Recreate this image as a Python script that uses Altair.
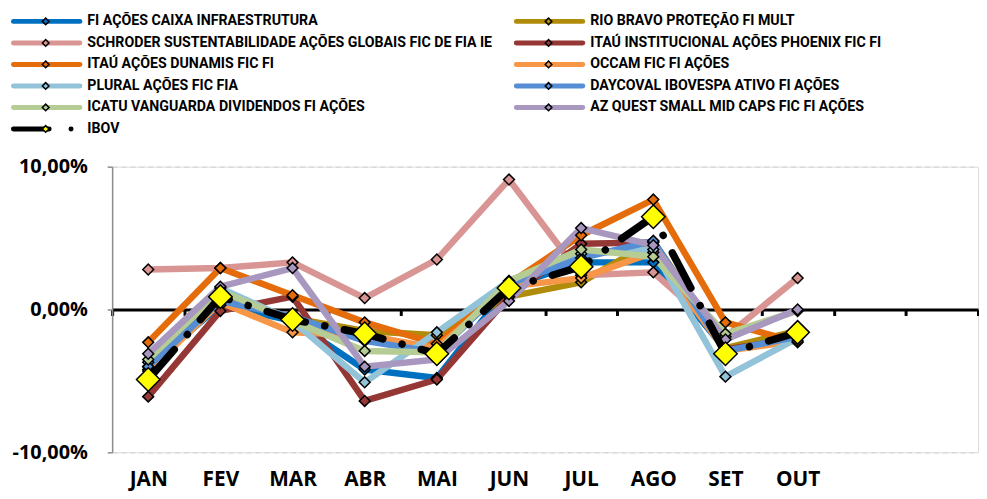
import altair as alt
import pandas as pd

months = ["JAN", "FEV", "MAR", "ABR", "MAI", "JUN", "JUL", "AGO", "SET", "OUT"]
all_months = months + ["NOV", "DEZ"]

series = [
    "FI AÇÕES CAIXA INFRAESTRUTURA",
    "RIO BRAVO PROTEÇÃO FI MULT",
    "SCHRODER SUSTENTABILIDADE AÇÕES GLOBAIS FIC DE FIA IE",
    "ITAÚ INSTITUCIONAL AÇÕES PHOENIX FIC FI",
    "ITAÚ AÇÕES DUNAMIS FIC FI",
    "OCCAM FIC FI AÇÕES",
    "PLURAL AÇÕES FIC FIA",
    "DAYCOVAL IBOVESPA ATIVO FI AÇÕES",
    "ICATU VANGUARDA DIVIDENDOS FI AÇÕES",
    "AZ QUEST SMALL MID CAPS FIC FI AÇÕES",
    "IBOV",
]
line_colors = ["#0070C0", "#B08C0A", "#D99594", "#953735", "#E46C0A", "#F79646",
               "#92C3D8", "#558ED5", "#B5CC94", "#A898C0", "#000000"]
marker_colors = ["#0070C0", "#B08C0A", "#D99594", "#953735", "#E46C0A", "#F79646",
                 "#92C3D8", "#558ED5", "#B5CC94", "#A898C0", "#FFFF00"]

caixa = [-4.0, 0.3, -0.8, -4.2, -4.8, 1.6, 3.3, 3.3, -2.8, -1.8]
rio_bravo = [-4.2, 1.0, -0.6, -1.5, -1.8, 0.9, 1.9, 4.8, -2.7, -1.5]
schroder = [2.8, 2.9, 3.3, 0.8, 3.5, 9.1, 2.4, 2.6, -1.9, 2.2]
phoenix = [-6.1, -0.1, 0.9, -6.4, -4.9, 0.9, 4.6, 4.7, -2.8, -2.0]
dunamis = [-2.3, 2.9, 1.0, -0.9, -2.4, 1.8, 5.2, 7.7, -0.9, -2.3]
occam = [-4.3, 0.5, -1.6, -1.8, -2.7, 1.6, 2.2, 4.0, -2.9, -2.2]
plural = [-3.7, 1.5, -0.8, -5.1, -1.6, 2.0, 3.9, 4.2, -4.7, -2.0]
daycoval = [-4.0, 0.6, -0.5, -2.2, -3.0, 1.8, 3.6, 4.8, -2.9, -1.9]
icatu = [-3.5, 1.3, -0.8, -2.9, -3.0, 2.0, 4.2, 3.7, -1.7, -0.1]
azquest = [-3.1, 1.6, 2.9, -4.0, -3.5, 0.6, 5.7, 4.5, -2.1, 0.0]
ibov = [-4.9, 0.9, -0.7, -1.7, -3.1, 1.5, 3.0, 6.5, -3.1, -1.6]

all_values = [caixa, rio_bravo, schroder, phoenix, dunamis, occam, plural,
              daycoval, icatu, azquest, ibov]

rows = []
for si, (name, vals) in enumerate(zip(series, all_values)):
    for mi, (m, v) in enumerate(zip(months, vals)):
        rows.append({"serie": name, "mes": m, "idx": mi, "valor": v, "ordem": si})
df = pd.DataFrame(rows)
funds = df[df["serie"] != "IBOV"]
ibov_df = df[df["serie"] == "IBOV"]

# legend table: two columns, row-major, in series order
leg = pd.DataFrame({
    "serie": series,
    "col": [i % 2 for i in range(len(series))],
    "row": [i // 2 for i in range(len(series))],
})
leg_funds = leg[leg["serie"] != "IBOV"]
leg_ibov = leg[leg["serie"] == "IBOV"]

AXIS_FONT = "Open Sans"
LEG_FONT = "Roboto"

color_scale = alt.Scale(domain=series, range=line_colors)
fill_scale = alt.Scale(domain=series, range=marker_colors)

x_enc = alt.X(
    "mes:N",
    sort=all_months,
    scale=alt.Scale(domain=all_months, type="band", paddingInner=0, paddingOuter=0),
    axis=alt.Axis(
        title=None, offset=-144, tickBand="extent", domainColor="black", domainWidth=3,
        tickColor="black", tickWidth=3, tickSize=6, labelPadding=154, labelAngle=0,
        labelFont=AXIS_FONT, labelFontSize=21, labelFontWeight="bold", labelColor="black",
        grid=False,
        labelExpr="indexof(['NOV','DEZ'], datum.value) >= 0 ? '' : datum.value",
    ),
)
y_enc = alt.Y(
    "valor:Q",
    scale=alt.Scale(domain=[-10, 10], nice=False, zero=False),
    axis=alt.Axis(
        title=None, values=[-10, 0, 10], domainColor="#8C8C8C", domainWidth=1.5,
        tickColor="#8C8C8C", tickWidth=1.5, tickSize=5, labelPadding=20,
        labelFont=AXIS_FONT, labelFontSize=20, labelFontWeight="bold", labelColor="black",
        grid=True, gridColor="#D9D9D9", gridWidth=1.5, gridDash=[5, 4],
        labelExpr="(datum.value < 0 ? '-' : '') + replace(format(abs(datum.value), '.2f'), '.', ',') + '%'",
    ),
)
color_enc = alt.Color("serie:N", scale=color_scale, legend=None)
fill_enc = alt.Fill("serie:N", scale=fill_scale, legend=None)
order_enc = alt.Order("idx:Q")

fund_lines = alt.Chart(funds).mark_line(strokeWidth=6.5, strokeCap="round", strokeJoin="round").encode(
    x=x_enc, y=y_enc, color=color_enc, order=order_enc, detail="ordem:N"
)
fund_points = alt.Chart(funds).mark_point(
    shape="diamond", filled=True, size=120, stroke="black", strokeWidth=1.5, opacity=1
).encode(x=x_enc, y=y_enc, fill=fill_enc)
ibov_line = alt.Chart(ibov_df).mark_line(
    strokeWidth=7.5, strokeCap="round", strokeJoin="round", strokeDash=[40, 20, 0.1, 20]
).encode(x=x_enc, y=y_enc, color=color_enc, order=order_enc)
ibov_points = alt.Chart(ibov_df).mark_point(
    shape="diamond", filled=True, size=560, stroke="black", strokeWidth=1.5, opacity=1
).encode(x=x_enc, y=y_enc, fill=fill_enc)

plot = alt.layer(fund_lines, fund_points, ibov_line, ibov_points)

# ---- legend drawn above the plot area (two columns) ----
lx = alt.X("col:Q", scale=alt.Scale(domain=[0, 1], range=[-103, 404], nice=False, zero=False), axis=None)
lx2 = alt.X2("col:Q")
ly = alt.Y("row:Q", scale=alt.Scale(domain=[0, 5], range=[-146.5, -38], nice=False, zero=False), axis=None)

leg_lines = alt.Chart(leg_funds).mark_rule(
    strokeWidth=5, strokeCap="round", xOffset=3.5, x2Offset=70.5
).encode(x=lx, x2=lx2, y=ly, color=color_enc)
leg_ibov_line = alt.Chart(leg_ibov).mark_rule(
    strokeWidth=5, strokeCap="round", xOffset=3.5, x2Offset=70.5, strokeDash=[36, 22, 0.1, 22]
).encode(x=lx, x2=lx2, y=ly, color=color_enc)
leg_marks = alt.Chart(leg).mark_point(
    shape="diamond", filled=True, size=45, stroke="black", strokeWidth=1.5, opacity=1, xOffset=36
).encode(x=lx, y=ly, fill=fill_enc)
leg_text = alt.Chart(leg).mark_text(
    align="left", baseline="middle", dx=78, font=LEG_FONT, fontSize=14.3,
    fontWeight="bold", color="black"
).encode(x=lx, y=ly, text="serie:N")

legend_layer = alt.layer(leg_lines, leg_ibov_line, leg_marks, leg_text)

chart = alt.layer(plot, legend_layer).resolve_scale(
    x="independent", y="independent"
).properties(
    width=873, height=288,
    autosize=alt.AutoSizeParams(type="none"),
    padding={"left": 105, "top": 158, "right": 1, "bottom": 37},
).configure_view(stroke=None).configure(background="white")

chart.save("out.html", embed_options={"renderer": "svg", "actions": False})
